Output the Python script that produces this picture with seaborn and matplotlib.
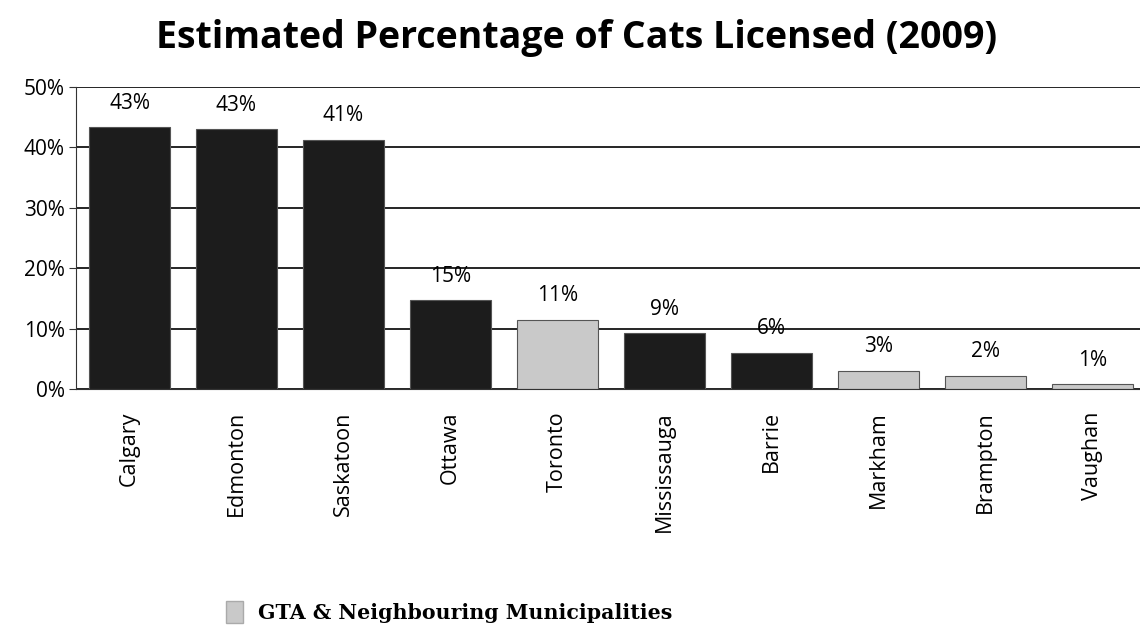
import numpy as np
import pandas as pd
import seaborn as sns
import matplotlib.pyplot as plt
from matplotlib.patches import Patch

# Данные
cities = ['Calgary', 'Edmonton', 'Saskatoon', 'Ottawa', 'Toronto',
          'Mississauga', 'Barrie', 'Markham', 'Brampton', 'Vaughan']
pct = [43.3, 43.0, 41.3, 14.7, 11.5, 9.2, 6.0, 3.0, 2.2, 0.8]
labels = ['43%', '43%', '41%', '15%', '11%', '9%', '6%', '3%', '2%', '1%']
gta = [False, False, False, False, True, False, False, True, True, True]

df = pd.DataFrame({'city': cities, 'pct': pct, 'gta': gta})

sns.set_style('white')
plt.rcParams['font.family'] = ['Open Sans', 'DejaVu Sans']
plt.rcParams['text.color'] = 'black'
plt.rcParams['xtick.labelcolor'] = 'black'
plt.rcParams['ytick.labelcolor'] = 'black'

fig = plt.figure(figsize=(11.4, 6.34), dpi=100)
ax = fig.add_axes([76 / 1140, 1 - 389 / 634, 1070 / 1140, 302 / 634])

palette = {False: '#1c1c1c', True: '#c9c9c9'}
sns.barplot(data=df, x='city', y='pct', hue='gta', palette=palette,
            dodge=False, width=0.75, legend=False, ax=ax,
            edgecolor='#555555', linewidth=0.8)

# Подписи над столбцами
for i, (v, lab) in enumerate(zip(pct, labels)):
    ax.text(i, v + 4.0, lab, ha='center', va='center', fontsize=15)

ax.set_ylim(0, 50)
ax.set_xlim(-0.5, len(cities) - 0.5)
ax.set_yticks(range(0, 51, 10))
ax.set_yticklabels([f'{t}%' for t in range(0, 51, 10)], fontsize=15)
ax.set_xticks(range(len(cities)))
ax.set_xticklabels(cities, rotation=90, fontsize=15.5)
ax.set_xticks(np.arange(-0.5, len(cities), 1), minor=True)
ax.tick_params(axis='x', which='major', length=0, pad=16)
ax.tick_params(axis='x', which='minor', length=4, color='#333333')
ax.tick_params(axis='y', length=5, color='#333333', left=True, pad=3)
ax.set_xlabel('')
ax.set_ylabel('')

ax.yaxis.grid(True, color='black', linewidth=1.2)
ax.set_axisbelow(True)
for s in ['top', 'right']:
    ax.spines[s].set_visible(False)
ax.spines['left'].set_color('#333333')
ax.spines['bottom'].set_color('#333333')

fig.text(577 / 1140, 1 - 48 / 634, 'Estimated Percentage of Cats Licensed (2009)',
         ha='center', va='baseline', fontsize=27, fontweight='bold')

fig.legend(handles=[Patch(facecolor='#c9c9c9', edgecolor='#aaaaaa')],
           labels=['GTA & Neighbouring Municipalities'],
           loc='center left', bbox_to_anchor=(207 / 1140, 1 - 612 / 634),
           frameon=False,
           prop={'family': 'DejaVu Serif', 'weight': 'bold', 'size': 14.8},
           handlelength=0.85, handleheight=1.3, handletextpad=0.75)

fig.savefig('out.png', dpi=100)
